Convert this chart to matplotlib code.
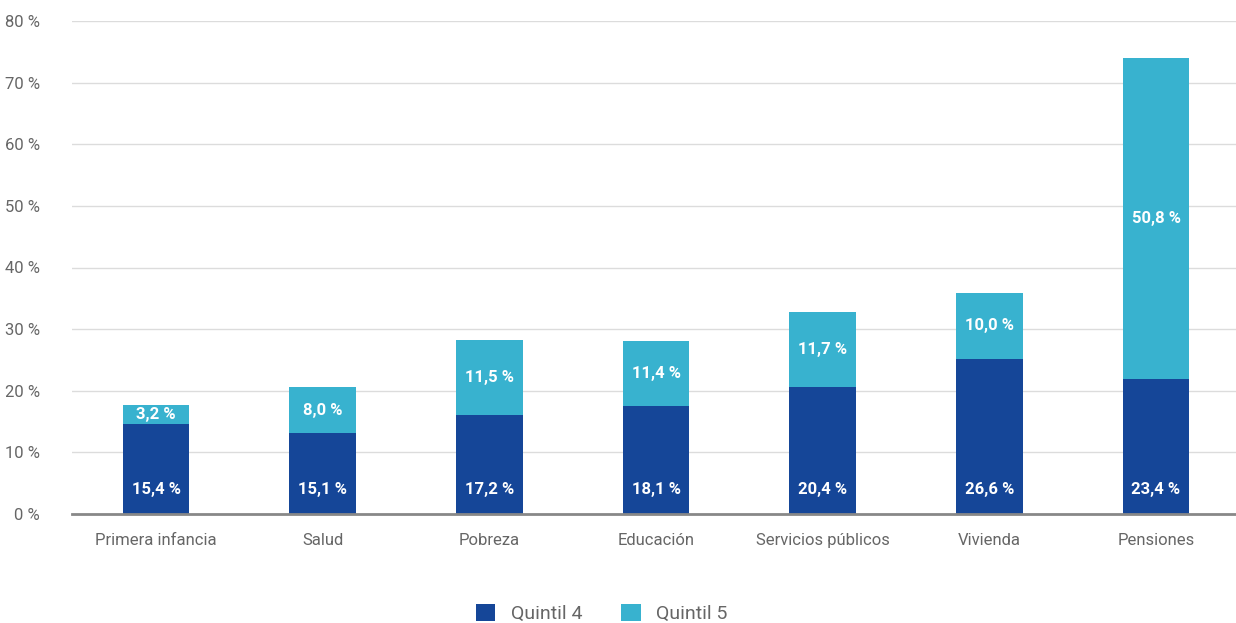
import matplotlib
matplotlib.use("Agg")
import matplotlib.pyplot as plt
import numpy as np

# categories and values (bar heights, labels as printed)
categories = ["Primera infancia", "Salud", "Pobreza", "Educación",
              "Servicios públicos", "Vivienda", "Pensiones"]
q4_height = [14.6, 13.1, 16.1, 17.5, 20.6, 25.2, 21.9]
q5_height = [3.1, 7.5, 12.1, 10.6, 12.2, 10.7, 52.1]
q4_label = ["15,4 %", "15,1 %", "17,2 %", "18,1 %", "20,4 %", "26,6 %", "23,4 %"]
q5_label = ["3,2 %", "8,0 %", "11,5 %", "11,4 %", "11,7 %", "10,0 %", "50,8 %"]
yticks = [0, 10, 20, 30, 40, 50, 60, 70, 80]

dark = "#154698"
light = "#38b2cf"
gray = "#666666"

plt.rcParams['font.family'] = ['Roboto', 'DejaVu Sans']

fig = plt.figure(figsize=(12.36, 6.23), dpi=100)
ax = fig.add_axes([72 / 1236, 1 - 514 / 623, 1 - 72 / 1236, (514 - 21) / 623])

x = np.arange(len(categories))
w = 0.4
ax.bar(x, q4_height, w, color=dark, label="Quintil 4", zorder=3)
ax.bar(x, q5_height, w, bottom=q4_height, color=light, label="Quintil 5", zorder=3)

for i in range(len(x)):
    ax.text(x[i], 4.0, q4_label[i], ha="center", va="center", color="white",
            fontsize=12, fontweight="bold", zorder=4)
    ax.text(x[i], q4_height[i] + q5_height[i] / 2, q5_label[i], ha="center",
            va="center", color="white", fontsize=12, fontweight="bold", zorder=4)

ax.set_ylim(0, 80)
ax.set_xlim(-0.504, 6.48)
ax.set_yticks(yticks)
ax.set_yticklabels([f"{t} %" for t in yticks])
ax.set_xticks(x)
ax.set_xticklabels(categories)
ax.tick_params(axis="both", length=0, colors=gray, labelsize=12)
ax.tick_params(axis="x", pad=14)
ax.tick_params(axis="y", pad=23)

ax.grid(axis="y", color="#dcdcdc", lw=1, zorder=0)
for s in ["top", "right", "left"]:
    ax.spines[s].set_visible(False)
ax.spines["bottom"].set_color("#888888")
ax.spines["bottom"].set_linewidth(2)
ax.spines["bottom"].set_zorder(5)

leg = fig.legend(loc="lower center", bbox_to_anchor=(0.487, -0.028), ncol=2,
                 frameon=False, fontsize=14, handlelength=1.0, handleheight=1.0,
                 columnspacing=2.0, handletextpad=0.8)
for t in leg.get_texts():
    t.set_color(gray)

fig.savefig("out.png", dpi=100)
